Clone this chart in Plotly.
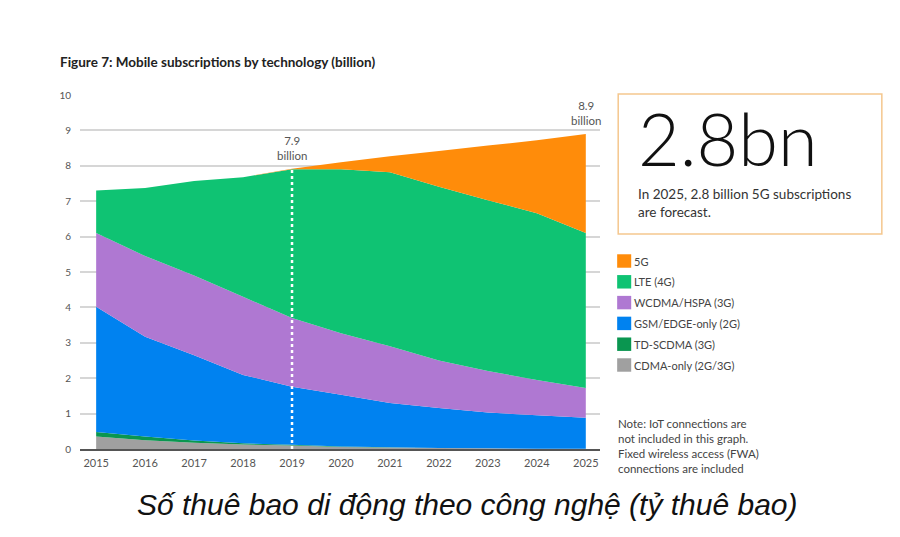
import plotly.graph_objects as go

# Mobile subscriptions by technology (billion)
years = [2015, 2016, 2017, 2018, 2019, 2020, 2021, 2022, 2023, 2024, 2025]

cdma = [0.35, 0.25, 0.18, 0.13, 0.10, 0.06, 0.04, 0.03, 0.02, 0.01, 0.01]
td_scdma = [0.13, 0.10, 0.06, 0.03, 0.02, 0.01, 0.01, 0.00, 0.00, 0.00, 0.00]
gsm = [3.54, 2.82, 2.41, 1.93, 1.64, 1.46, 1.25, 1.13, 1.01, 0.94, 0.87]
wcdma = [2.08, 2.28, 2.25, 2.21, 1.94, 1.74, 1.60, 1.34, 1.17, 1.00, 0.84]
lte = [1.20, 1.92, 2.67, 3.38, 4.20, 4.63, 4.92, 4.91, 4.83, 4.71, 4.38]
nr_5g = [0.00, 0.00, 0.00, 0.00, 0.02, 0.20, 0.45, 1.01, 1.54, 2.06, 2.80]

series = [
    ('CDMA-only (2G/3G)', cdma, '#A0A0A0'),
    ('TD-SCDMA (3G)', td_scdma, '#0A9650'),
    ('GSM/EDGE-only (2G)', gsm, '#0082F0'),
    ('WCDMA/HSPA (3G)', wcdma, '#AF78D2'),
    ('LTE (4G)', lte, '#0FC373'),
    ('5G', nr_5g, '#FF8C0A'),
]

font = 'Lato'
fig = go.Figure()
for name, vals, col in series:
    fig.add_trace(go.Scatter(x=years, y=vals, name=name, stackgroup='one',
                             mode='none', fillcolor=col, showlegend=False))

# totals used for the marker line and call-outs
totals = [sum(s[1][i] for s in series) for i in range(len(years))]
i19 = years.index(2019)

fig.add_shape(type='line', x0=2019, x1=2019, y0=0, y1=totals[i19],
              line=dict(color='white', width=2.5, dash='dot'), layer='above')

fig.add_annotation(x=2019, y=totals[i19], text='7.9<br>billion', showarrow=False,
                   yanchor='bottom', yshift=5, font=dict(family=font, size=11.5, color='#555'))
fig.add_annotation(x=2025, y=totals[-1], text='8.9<br>billion', showarrow=False,
                   yanchor='bottom', xanchor='center', yshift=5,
                   font=dict(family=font, size=11.5, color='#555'))

fig.add_annotation(x=-0.042, y=1.093, xref='paper', yref='paper', xanchor='left', yanchor='middle',
                   text='<b>Figure 7: Mobile subscriptions by technology (billion)</b>',
                   showarrow=False, font=dict(family=font, size=13.5, color='#222'))

# forecast box
fig.add_shape(type='rect', xref='paper', yref='paper', x0=1.035, x1=1.542,
              y0=0.607, y1=1.003, line=dict(color='#F5C78E', width=1.5), fillcolor='white')
fig.add_annotation(x=1.07, y=1.005, xref='paper', yref='paper', xanchor='left', yanchor='top',
                   text='2.8bn', showarrow=False,
                   font=dict(family=font, size=72, color='#111', weight=300))
fig.add_annotation(x=1.07, y=0.748, xref='paper', yref='paper', xanchor='left', yanchor='top',
                   text='In 2025, 2.8 billion 5G subscriptions<br>are forecast.', align='left',
                   showarrow=False, font=dict(family=font, size=13.5, color='#333'))

# legend, top to bottom: colour squares plus labels
for k, (name, vals, col) in enumerate(reversed(series)):
    yc = (449 - (261 + 20.8 * k)) / 354
    fig.add_shape(type='rect', xref='paper', yref='paper', x0=1.033, x1=1.06,
                  y0=yc - 0.019, y1=yc + 0.019, line=dict(width=0), fillcolor=col)
    fig.add_annotation(x=1.062, y=yc, xref='paper', yref='paper',
                       xanchor='left', yanchor='middle', showarrow=False, text=name,
                       font=dict(family=font, size=11, color='#444'))

fig.add_annotation(x=1.03, y=0.097, xref='paper', yref='paper', xanchor='left', yanchor='top',
                   text='Note: IoT connections are<br>not included in this graph.<br>'
                        'Fixed wireless access (FWA)<br>connections are included',
                   align='left', showarrow=False, font=dict(family=font, size=11.5, color='#444'))

fig.add_annotation(x=0.746, y=-0.158, xref='paper', yref='paper',
                   xanchor='center', yanchor='middle',
                   text='<i>Số thuê bao di động theo công nghệ (tỷ thuê bao)</i>',
                   showarrow=False, font=dict(family='Liberation Sans', size=30, color='#111'))

fig.update_layout(
    width=900, height=537,
    margin=dict(l=72, r=308, t=87, b=96),
    plot_bgcolor='white', paper_bgcolor='white',
    showlegend=False,
    xaxis=dict(range=[2014.67, 2025.29], tickvals=years, showgrid=False,
               showline=True, linecolor='#555', linewidth=2, ticklabelstandoff=3,
               tickfont=dict(family=font, size=11, color='#555'), zeroline=False),
    yaxis=dict(range=[0, 10], dtick=1, showgrid=True, gridcolor='#D6D6D6', gridwidth=1.5,
               zeroline=False, ticks='', ticklabelstandoff=8,
               tickfont=dict(family=font, size=10, color='#555')),
)

fig.write_html('out.html')
